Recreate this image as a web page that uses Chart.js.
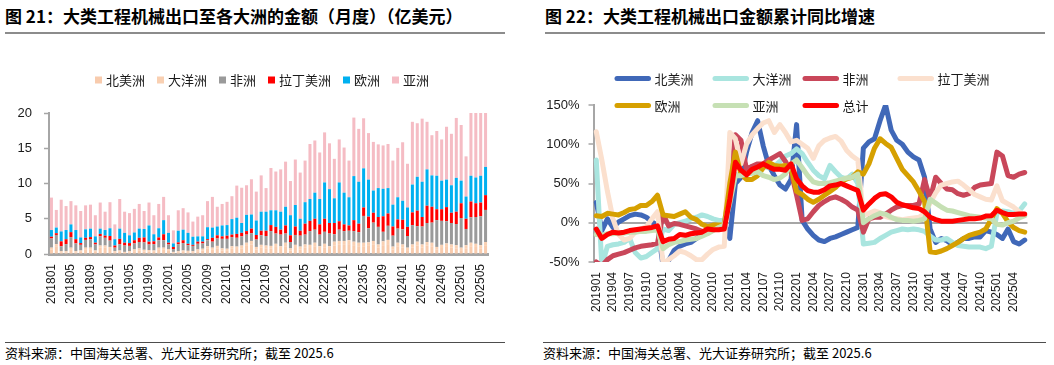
<!DOCTYPE html>
<html>
<head>
<meta charset="utf-8">
<script src="https://cdn.jsdelivr.net/npm/chart.js@4/dist/chart.umd.min.js"></script>
<style>
  body { margin: 0; background: #fff; width: 1054px; height: 365px; position: relative; overflow: hidden;
         font-family: "Noto Sans CJK SC", sans-serif; color: #000; }
  .title { position: absolute; top: 7px; font-size: 17px; line-height: 17px; font-weight: bold; white-space: nowrap; }
  .rule { position: absolute; height: 0; }
  .src { position: absolute; top: 346px; font-size: 13px; line-height: 13px; white-space: nowrap; }
  canvas { position: absolute; top: 40px; }
</style>
</head>
<body>
<div class="title" style="left:5px">图 21：大类工程机械出口至各大洲的金额（月度）（亿美元）</div>
<div class="title" style="left:545px">图 22：大类工程机械出口金额累计同比增速</div>
<div class="rule" style="left:5px;width:500px;top:32px;border-top:2px solid #8c8c8c"></div>
<div class="rule" style="left:545px;width:500px;top:32px;border-top:2px solid #8c8c8c"></div>
<div class="rule" style="left:5px;width:500px;top:342px;border-top:1.5px solid #4d4d4d"></div>
<div class="rule" style="left:543px;width:503px;top:342px;border-top:1.5px solid #4d4d4d"></div>
<div class="src" style="left:5px">资料来源：中国海关总署、光大证券研究所；截至 2025.6</div>
<div class="src" style="left:543px">资料来源：中国海关总署、光大证券研究所；截至 2025.6</div>
<canvas id="monthly" width="527" height="300" style="left:0"></canvas>
<canvas id="ytd" width="527" height="300" style="left:527px"></canvas>
<script>
// 月份标签
function monthRange(y, m, n) {
  const out = [];
  for (let i = 0; i < n; i++) {
    out.push(String(y) + String(m).padStart(2, '0'));
    m++; if (m > 12) { m = 1; y++; }
  }
  return out;
}
const months = monthRange(2018, 1, 90);      // 201801 - 202506
const ytdMonths = monthRange(2019, 1, 78);   // 201901 - 202506

// 图21：各大洲出口金额（亿美元）
const northAmerica = [0.65,1.1,0.2,0.2,0.6,0.2,0.3,0.6,0.6,0.3,0.9,0.9, 0.7,0.25,0.3,0.15,0.2,0.4,0.5,0.35,0.35,0.3,0.6,0.6,
  0.45,0.2,0.25,0.3,0.25,0.25,0.4,0.5,0.8,0.6,0.8,0.5, 0.45,0.75,0.7,0.8,1.15,1.35,0.65,0.9,0.8,0.75,1.0,0.7,
  1.1,0.5,0.85,0.65,0.9,0.85,1.1,0.7,0.95,0.7,1.2,1.3, 1.3,1.4,1.25,1.1,1.1,1.15,1.3,0.9,1.25,1.4,0.65,1.1,
  0.9,0.55,0.9,1.2,0.9,1.2,1.1,0.6,0.85,1.0,0.9,0.8, 0.55,0.8,1.1,1.0,0.8,1.15];
const oceania = [0.25,0.3,0.2,0.2,0.3,0.2,0.2,0.3,0.3,0.2,0.3,0.3, 0.3,0.15,0.2,0.15,0.2,0.25,0.3,0.25,0.2,0.2,0.3,0.3,
  0.25,0.1,0.15,0.2,0.2,0.15,0.25,0.25,0.3,0.3,0.35,0.3, 0.3,0.35,0.35,0.4,0.45,0.5,0.35,0.4,0.4,0.4,0.45,0.4,
  0.5,0.3,0.45,0.4,0.45,0.45,0.5,0.4,0.5,0.4,0.55,0.55, 0.55,0.55,0.5,0.5,0.5,0.5,0.55,0.45,0.55,0.6,0.4,0.5,
  0.45,0.35,0.45,0.55,0.45,0.5,0.5,0.4,0.45,0.5,0.45,0.45, 0.35,0.45,0.5,0.45,0.45,0.55];
const africa = [1.3,1.3,0.7,1.0,1.5,1.1,0.8,1.1,1.2,0.85,1.3,1.1, 0.9,0.5,0.9,0.9,0.75,0.85,0.9,1.05,0.8,0.9,1.05,1.05,
  0.65,0.4,1.0,1.05,0.8,0.75,0.8,0.75,0.85,0.85,1.05,1.35, 1.4,1.3,1.25,1.3,1.15,1.1,1.05,1.35,1.35,2.1,1.45,1.65,
  1.3,0.9,1.4,1.55,1.4,1.95,1.85,1.65,1.7,1.8,1.05,1.6, 1.4,1.35,1.5,1.5,3.8,2.0,2.6,2.5,1.35,2.0,1.55,2.0,
  2.15,1.65,2.75,2.2,2.55,2.7,2.85,3.8,3.4,3.15,3.05,3.0, 4.2,2.3,3.6,3.8,4.1,4.55];
const latinAmerica = [0.25,0.25,0.7,0.7,0.7,0.6,0.25,0.3,0.3,0.25,0.35,0.3, 0.65,0.3,0.75,0.4,0.4,0.45,0.6,0.7,0.4,0.4,0.4,0.85,
  0.25,0.3,0.25,0.4,0.2,0.15,0.3,0.25,0.15,0.55,0.45,0.35, 0.45,0.35,0.55,0.5,0.5,0.65,0.65,0.65,0.75,0.85,0.95,0.7,
  1.15,0.95,1.2,0.7,1.55,1.45,1.55,1.45,1.85,1.5,1.6,1.2, 0.95,0.75,1.55,1.2,1.2,1.65,1.4,1.4,2.2,1.75,1.3,1.3,
  1.35,1.3,1.8,2.2,1.35,2.45,2.25,1.55,1.65,2.0,1.45,1.75, 2.1,1.45,2.25,1.95,1.95,2.1];
const europe = [0.95,0.8,1.4,1.3,1.1,1.3,0.8,1.2,1.2,0.9,0.75,0.8, 1.1,0.9,1.45,1.4,1.1,1.1,1.3,1.2,2.3,1.0,1.3,2.0,
  1.4,0.5,1.65,1.5,1.55,1.15,0.75,0.75,1.7,1.45,1.25,1.55, 1.5,2.2,2.3,1.4,2.3,2.0,2.05,2.7,2.7,2.1,2.35,2.55,
  2.65,2.85,3.05,1.7,3.05,3.1,3.7,3.6,5.15,4.8,3.5,5.5, 4.5,4.0,6.25,5.95,5.55,5.25,3.15,4.1,3.9,3.6,3.1,3.15,
  2.7,2.75,3.95,4.8,5.0,5.15,4.45,4.75,4.05,3.9,3.9,4.8, 3.2,3.15,3.65,3.65,3.8,4.0];
const asia = [4.6,2.5,4.5,3.4,3.3,3.5,3.75,3.4,3.4,3.0,3.7,2.6, 3.7,2.1,4.2,3.0,3.15,3.35,3.5,2.55,3.25,2.7,3.45,3.3,
  2.5,1.85,2.9,3.05,2.9,2.15,2.8,3.0,3.7,4.35,2.8,3.05, 3.3,3.25,4.55,5.0,4.2,5.0,4.1,5.15,3.35,6.0,5.5,6.0,
  6.4,4.85,6.45,6.55,5.9,7.8,7.4,6.6,7.1,6.5,5.6,6.1, 6.4,5.2,8.3,7.5,7.1,6.6,6.9,6.2,6.15,6.25,6.25,7.0,
  8.3,6.2,8.9,7.6,8.95,6.75,5.7,6.35,5.85,7.5,7.3,8.5, 7.9,5.7,9.5,9.6,9.4,8.4];

// 图22：累计同比（%）
const ytdNorthAmerica = [26,-10,5,-6,1,5,9,11,10,7,1,-3, -55,-48,-35,-30,-27,-25,-20,-15,-12,-9,-5,-1,
  -20,50,58,90,115,130,98,73,60,48,43,55, 125,3,-8,-16,-22,-24,-20,-18,-15,-12,-9,-6,
  95,103,107,130,150,118,105,100,90,84,80,58, -8,-25,-20,-23,-28,-25,-20,-20,-18,-18,-10,-12, -15,-20,-8,-24,-27,-22];
const ytdOceania = [80,-55,-30,-28,-27,-25,-20,-38,-45,-43,-38,-33, -8,-10,-2,0,2,5,7,10,8,5,3,3,
  30,62,60,62,65,70,72,70,72,78,85,88, 94,88,77,67,60,56,73,65,58,56,62,50,
  -27,-26,-25,-20,-16,-12,-10,-8,-9,-8,-9,-11, -17,-22,-22,-20,-25,-29,-30,-31,-31,-31,-33,-30, 12,15,14,12,15,24];
const ytdAfrica = [-50,-55,-47,-42,-40,-38,-35,-32,-30,-29,-28,-26, 11,-4,-1,-2,-4,-6,-8,-11,-12,-9,-7,-6,
  50,112,105,68,72,75,75,80,84,88,78,65, 35,3,5,14,22,27,31,33,30,26,20,16,
  -12,5,7,7,11,16,20,22,22,22,24,55, 30,58,50,43,42,37,35,37,45,48,49,50, 90,85,60,58,62,64];
const ytdLatinAmerica = [116,80,40,5,-15,-22,-20,-12,-8,-5,5,14, -52,-47,-42,-36,-38,-42,-47,-47,-40,-34,-31,-30,
  115,107,75,100,112,120,127,130,115,125,115,103, 105,100,95,82,98,105,108,110,104,92,85,80,
  10,12,15,13,8,6,5,4,5,6,7,12, 25,38,48,50,52,53,48,42,36,33,30,29, 47,28,24,20,14,10];
const ytdEurope = [9,8,12,11,10,13,17,18,22,22,27,35, 10,9,8,11,14,7,4,-2,-5,-3,-3,-3,
  50,90,62,55,55,60,70,77,73,72,73,70, 40,36,30,26,30,35,40,45,52,56,58,65,
  62,75,95,107,101,96,82,68,60,52,40,27, -37,-38,-36,-33,-29,-25,-20,-16,-14,-12,-8,5, 18,12,1,-6,-10,-12];
const ytdAsia = [-15,-16,-14,-14,-13,-13,-12,-12,-11,-11,-10,-9, -33,-28,-25,-24,-22,-21,-20,-17,-14,-10,-6,-3,
  25,60,60,62,63,65,60,58,55,57,62,75, 80,70,60,52,50,50,51,53,55,57,58,62,
  0,5,9,12,11,7,4,3,3,2,3,5, 30,25,20,16,15,13,11,9,8,7,6,5, -2,-3,0,2,6,9];
const ytdTotal = [-8,-20,-15,-12,-13,-12,-10,-9,-8,-7,-6,-4, -24,-21,-20,-15,-16,-14,-13,-12,-8,-9,-9,-8,
  30,77,67,61,68,71,75,71,68,68,67,75, 56,47,41,39,39,42,47,48,50,47,44,41,
  16,24,31,36,37,33,26,23,21,19,18,14, 7,4,2,2,2,3,4,5,5,6,8.5,9, 16,13,10.5,10.5,11,11];

Chart.defaults.font.family = '"Liberation Sans", "Noto Sans CJK SC", sans-serif';
Chart.defaults.color = '#1a1a1a';
const axisGrey = '#a6a6a6';
const cjkFont = '13px "Noto Sans CJK SC", sans-serif';

// 左图图例：小方块，居中一行
const squareLegend = {
  id: 'squareLegend',
  afterDraw(chart) {
    const ctx = chart.ctx;
    ctx.save();
    ctx.font = cjkFont;
    ctx.textBaseline = 'middle';
    const items = chart.data.datasets.map(ds => ({ ds, w: 11 + ctx.measureText(ds.label).width }));
    const total = items.reduce((s, it) => s + it.w, 0) + 12 * (items.length - 1);
    let x = 262 - total / 2;
    const y = 40;
    items.forEach(it => {
      ctx.fillStyle = it.ds.backgroundColor;
      ctx.fillRect(x, y - 3.5, 7, 7);
      ctx.fillStyle = '#1a1a1a';
      ctx.fillText(it.ds.label, x + 11, y + 0.5);
      x += it.w + 12;
    });
    ctx.restore();
  }
};

// 右图图例：两行，固定列
const legendCols = [21, 119, 209, 304];
const lineLegend = {
  id: 'lineLegend',
  afterDraw(chart) {
    const ctx = chart.ctx, a = chart.chartArea;
    ctx.save();
    ctx.font = cjkFont;
    ctx.textBaseline = 'middle';
    chart.data.datasets.forEach((ds, i) => {
      const col = i < 4 ? i : i - 4;
      const y = i < 4 ? 38.5 : 65.5;
      const x = a.left + legendCols[col];
      ctx.strokeStyle = ds.borderColor;
      ctx.lineWidth = 5;
      ctx.lineCap = 'round';
      ctx.beginPath();
      ctx.moveTo(x + 2.5, y);
      ctx.lineTo(x + 34, y);
      ctx.stroke();
      ctx.fillStyle = '#1a1a1a';
      ctx.fillText(ds.label, x + 40, y + 0.5);
    });
    ctx.restore();
  }
};

function barSet(label, data, color) {
  return { label, data, backgroundColor: color, borderWidth: 0, barPercentage: 0.62, categoryPercentage: 1.0, clip: 0 };
}

new Chart(document.getElementById('monthly'), {
  type: 'bar',
  data: {
    labels: months,
    datasets: [
      barSet('北美洲', northAmerica, '#F8CBAD'),
      barSet('大洋洲', oceania, '#F9D0B2'),
      barSet('非洲', africa, '#9A9A9A'),
      barSet('拉丁美洲', latinAmerica, '#FF0000'),
      barSet('欧洲', europe, '#00B0F0'),
      barSet('亚洲', asia, '#F5BCC4')
    ]
  },
  options: {
    responsive: false,
    animation: false,
    layout: { padding: { top: 73, right: 39, left: 0, bottom: 0 } },
    plugins: { legend: { display: false }, tooltip: { enabled: false } },
    scales: {
      x: {
        stacked: true,
        grid: { display: false, drawTicks: false },
        border: { color: axisGrey, width: 3 },
        ticks: { autoSkip: false, minRotation: 90, maxRotation: 90, padding: 10, font: { size: 12 },
                 callback: (v, i) => (i % 4 === 0 ? months[i] : '') },
        afterFit: s => { s.height = 86; }
      },
      y: {
        stacked: true, min: 0, max: 20,
        ticks: { stepSize: 5, padding: 12, font: { size: 13 } },
        grid: { drawOnChartArea: false, drawTicks: true, tickLength: 5, tickColor: axisGrey, tickWidth: 1.5 },
        border: { color: axisGrey, width: 2 },
        afterFit: s => { s.width = 49; }
      }
    }
  },
  plugins: [squareLegend]
});

const lineSeries = [
  ['北美洲', ytdNorthAmerica, '#4068B8'],
  ['大洋洲', ytdOceania, '#A9E5DF'],
  ['非洲', ytdAfrica, '#C9475A'],
  ['拉丁美洲', ytdLatinAmerica, '#FBE0CE'],
  ['欧洲', ytdEurope, '#D6A000'],
  ['亚洲', ytdAsia, '#C6E0B4'],
  ['总计', ytdTotal, '#FF0000']
];

new Chart(document.getElementById('ytd'), {
  type: 'line',
  data: {
    labels: ytdMonths,
    datasets: lineSeries.map(([label, data, color], i) => ({
      label, data, borderColor: color, backgroundColor: color,
      borderWidth: 5, pointRadius: 0, tension: 0, fill: false,
      borderJoinStyle: 'round', borderCapStyle: 'round',
      order: lineSeries.length - i
    }))
  },
  options: {
    responsive: false,
    animation: false,
    layout: { padding: { top: 65, right: 26.5, left: 0, bottom: 0 } },
    plugins: { legend: { display: false }, tooltip: { enabled: false } },
    scales: {
      x: {
        offset: true,
        grid: { display: false, drawTicks: false },
        border: { display: false },
        ticks: { autoSkip: false, minRotation: 90, maxRotation: 90, padding: 10, font: { size: 12 },
                 callback: (v, i) => (i % 3 === 0 ? ytdMonths[i] : '') },
        afterFit: s => { s.height = 78; }
      },
      y: {
        min: -50, max: 150,
        ticks: { stepSize: 50, padding: 9, font: { size: 13 }, callback: v => v + '%' },
        grid: {
          drawTicks: true, tickLength: 5, tickColor: axisGrey, tickWidth: 1.5, lineWidth: 2,
          color: c => (c.tick && c.tick.value === 0 ? axisGrey : 'rgba(0,0,0,0)')
        },
        border: { color: axisGrey, width: 2 },
        afterFit: s => { s.width = 66.5; }
      }
    }
  },
  plugins: [lineLegend]
});
</script>
</body>
</html>
